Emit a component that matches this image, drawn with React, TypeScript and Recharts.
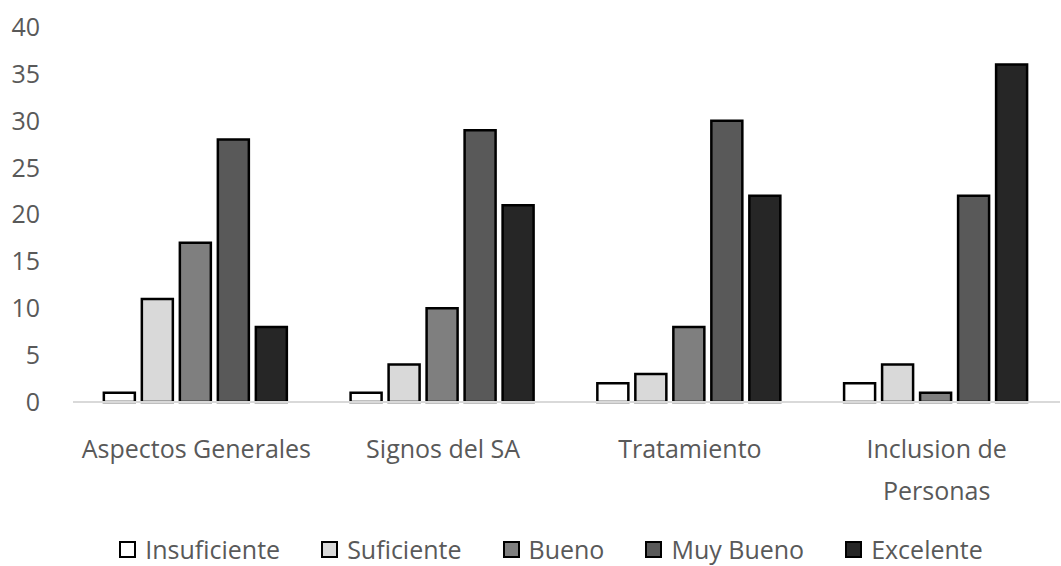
import React from "react";
import { BarChart, Bar, XAxis, YAxis, Legend } from "recharts";

// category labels, split where the original wraps them
const categoryLines = [
  ["Aspectos Generales"],
  ["Signos del SA"],
  ["Tratamiento"],
  ["Inclusion de", "Personas"],
];
const categories = categoryLines.map((l) => l.join(" "));
const insuficiente = [1, 1, 2, 2];
const suficiente = [11, 4, 3, 4];
const bueno = [17, 10, 8, 1];
const muyBueno = [28, 29, 30, 22];
const excelente = [8, 21, 22, 36];
const yTicks = [0, 5, 10, 15, 20, 25, 30, 35, 40];

const series = [
  { key: "Insuficiente", values: insuficiente, color: "#ffffff" },
  { key: "Suficiente", values: suficiente, color: "#d9d9d9" },
  { key: "Bueno", values: bueno, color: "#7f7f7f" },
  { key: "Muy Bueno", values: muyBueno, color: "#595959" },
  { key: "Excelente", values: excelente, color: "#262626" },
];

const data = categories.map((name, i) => {
  const row: Record<string, string | number> = { name };
  series.forEach((s) => {
    row[s.key] = s.values[i];
  });
  return row;
});

const FONT = "'Open Sans', sans-serif";
const TEXT_COLOR = "#595959";

const CategoryTick = (props: any) => {
  const { x, y, payload } = props;
  const idx = categories.indexOf(payload.value);
  const lines = idx >= 0 ? categoryLines[idx] : [payload.value];
  return (
    <text
      x={x}
      y={y + 54}
      textAnchor="middle"
      fill={TEXT_COLOR}
      fontFamily={FONT}
      fontSize={25}
    >
      {lines.map((line, i) => (
        <tspan key={i} x={x} dy={i === 0 ? 0 : 42}>
          {line}
        </tspan>
      ))}
    </text>
  );
};

const LegendBox = () => (
  <div
    style={{
      height: 40,
      boxSizing: "border-box",
      paddingTop: 6,
      paddingLeft: 42,
      display: "flex",
      justifyContent: "center",
      alignItems: "center",
      fontFamily: FONT,
      fontSize: 25,
      color: TEXT_COLOR,
    }}
  >
    {series.map((s, i) => (
      <div
        key={s.key}
        style={{ display: "flex", alignItems: "center", marginLeft: i === 0 ? 0 : 41 }}
      >
        <span
          style={{
            display: "inline-block",
            width: 13,
            height: 13,
            background: s.color,
            border: "2px solid #000",
            marginRight: 9,
          }}
        />
        <span style={{ lineHeight: "34px" }}>{s.key}</span>
      </div>
    ))}
  </div>
);

export default function App() {
  return (
    <div style={{ width: 1061, height: 566, background: "#fff" }}>
      <style>{`body{margin:0}`}</style>
      <BarChart
        width={1061}
        height={566}
        data={data}
        margin={{ top: 27, right: 1, left: 0, bottom: 0 }}
        barCategoryGap="12.5%"
        barGap={7}
      >
        <XAxis
          dataKey="name"
          axisLine={{ stroke: "#d9d9d9", strokeWidth: 2 }}
          tickLine={false}
          tickSize={0}
          height={124}
          interval={0}
          tick={<CategoryTick />}
        />
        <YAxis
          domain={[0, 40]}
          ticks={yTicks}
          width={73}
          axisLine={false}
          tickLine={false}
          tickSize={0}
          tickMargin={33}
          tick={{ fill: TEXT_COLOR, fontSize: 25, fontFamily: FONT }}
        />
        <Legend verticalAlign="bottom" content={<LegendBox />} />
        {series.map((s) => (
          <Bar
            key={s.key}
            dataKey={s.key}
            fill={s.color}
            stroke="#000"
            strokeWidth={2.5}
            isAnimationActive={false}
          />
        ))}
      </BarChart>
    </div>
  );
}
